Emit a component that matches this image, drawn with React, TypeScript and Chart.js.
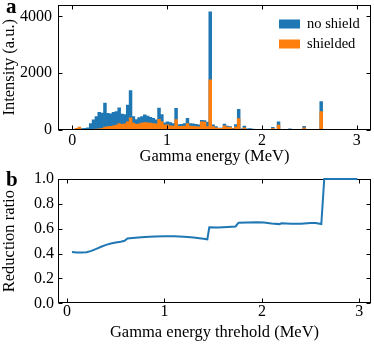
import { useEffect, useRef } from 'react';
import { Chart, registerables } from 'chart.js';

Chart.register(...registerables);

const FONT = "'Liberation Serif', 'Times New Roman', serif";
const BLUE = '#1f77b4';
const ORANGE = '#ff7f0e';

Chart.defaults.font.family = FONT;
Chart.defaults.font.size = 16;
Chart.defaults.color = '#000';

// Histogram: 100 bins of 0.03 MeV from 0 to 3 MeV
const BIN_WIDTH = 0.03;
const noShield = [
  0, 30, 60, 50, 60, 80, 230, 360, 470, 620,
  600, 950, 590, 570, 620, 650, 780, 560, 540, 880,
  1390, 470, 370, 440, 470, 530, 490, 450, 410, 360,
  770, 540, 250, 290, 260, 230, 760, 190, 200, 230,
  410, 230, 220, 200, 180, 340, 330, 280, 4160, 180,
  120, 70, 70, 210, 140, 120, 60, 190, 730, 40,
  140, 40, 50, 30, 15, 10, 10, 15, 10, 10,
  90, 10, 290, 20, 10, 10, 40, 10, 10, 10,
  10, 130, 10, 5, 5, 5, 5, 1000, 5, 0,
  0, 0, 0, 0, 0, 0, 0, 0, 0, 0,
];
const shielded = [
  0, 60, 100, 20, 10, 10, 15, 20, 30, 40,
  60, 100, 120, 130, 150, 170, 230, 200, 220, 290,
  430, 240, 200, 220, 240, 260, 250, 240, 230, 220,
  380, 290, 180, 180, 150, 140, 370, 130, 130, 140,
  230, 140, 130, 120, 110, 290, 280, 120, 1770, 120,
  80, 60, 60, 150, 100, 90, 40, 110, 400, 20,
  80, 20, 20, 10, 8, 5, 5, 8, 5, 5,
  60, 5, 175, 10, 5, 5, 10, 5, 5, 5,
  5, 80, 5, 3, 3, 3, 3, 650, 3, 0,
  0, 0, 0, 0, 0, 0, 0, 0, 0, 0,
];
const binCenters = noShield.map((_, i) => (i + 0.5) * BIN_WIDTH);

const energyTicks = [0, 1, 2, 3];
const energyTickLabels = ['0', '1', '2', '3'];
const intensityTicks = [0, 2000, 4000];
const intensityTickLabels = ['0', '2000', '4000'];

// Reduction ratio vs threshold
const thresholds = [
  0.05, 0.10, 0.15, 0.20, 0.25, 0.30, 0.35, 0.40, 0.45, 0.50,
  0.55, 0.59, 0.62, 0.70, 0.80, 0.90, 1.00, 1.10, 1.20, 1.30,
  1.40, 1.44, 1.46, 1.55, 1.65, 1.73, 1.76, 1.85, 1.95, 2.02,
  2.10, 2.18, 2.20, 2.30, 2.40, 2.50, 2.55, 2.61, 2.64, 2.98,
];
const ratios = [
  0.412, 0.409, 0.409, 0.411, 0.422, 0.438, 0.455, 0.470, 0.481, 0.489,
  0.496, 0.503, 0.521, 0.527, 0.533, 0.537, 0.540, 0.539, 0.536, 0.530,
  0.520, 0.515, 0.612, 0.610, 0.614, 0.618, 0.648, 0.651, 0.653, 0.650,
  0.642, 0.637, 0.644, 0.640, 0.640, 0.646, 0.646, 0.638, 1.0, 1.0,
];
const ratioTicks = [0, 0.2, 0.4, 0.6, 0.8, 1.0];
const ratioTickLabels = ['0.0', '0.2', '0.4', '0.6', '0.8', '1.0'];

const W = 374;
const H = 344;

function drawFrame(chart: any, opts: any) {
  const { ctx, chartArea } = chart;
  const { left, right, top, bottom } = chartArea;
  const xs = chart.scales.x;
  const ys = chart.scales.y;
  const L = 4;
  ctx.save();
  ctx.strokeStyle = '#000';
  ctx.lineWidth = 1;
  const l = Math.round(left) + 0.5;
  const r = Math.round(right) - 0.5;
  const t = Math.round(top) + 0.5;
  const b = Math.round(bottom) - 0.5;
  ctx.strokeRect(l, t, r - l, b - t);
  ctx.beginPath();
  for (const tk of xs.ticks) {
    const p = Math.round(xs.getPixelForValue(tk.value)) + 0.5;
    ctx.moveTo(p, b); ctx.lineTo(p, b - L);
    ctx.moveTo(p, t); ctx.lineTo(p, t + L);
  }
  for (const tk of ys.ticks) {
    const p = Math.round(ys.getPixelForValue(tk.value)) + 0.5;
    ctx.moveTo(l, p); ctx.lineTo(l + L, p);
    ctx.moveTo(r, p); ctx.lineTo(r - L, p);
  }
  ctx.stroke();
  ctx.restore();
}

function drawTexts(chart: any, opts: any) {
  const { ctx, chartArea } = chart;
  const xs = chart.scales.x;
  const ys = chart.scales.y;
  ctx.save();
  ctx.fillStyle = '#000';
  ctx.font = `${opts.tickSize}px ${FONT}`;
  ctx.textAlign = 'center';
  ctx.textBaseline = 'middle';
  opts.xTicks.forEach((v: number, i: number) => {
    ctx.fillText(opts.xLabels[i], xs.getPixelForValue(v), chartArea.bottom + opts.xLabelDy);
  });
  ctx.textAlign = 'right';
  opts.yTicks.forEach((v: number, i: number) => {
    ctx.fillText(opts.yLabels[i], chartArea.left - opts.yLabelDx, ys.getPixelForValue(v));
  });
  if (opts.label) {
    ctx.font = `bold ${opts.labelSize}px ${FONT}`;
    ctx.textAlign = 'left';
    ctx.textBaseline = 'alphabetic';
    ctx.fillText(opts.label, opts.labelX, opts.labelY);
  }
  ctx.restore();
}

const framePlugin = {
  id: 'frame',
  beforeDatasetsDraw(chart: any, _args: any, opts: any) {
    if (opts && opts.under) drawFrame(chart, opts);
  },
  afterDraw(chart: any, _args: any, opts: any) {
    if (!opts) return;
    if (!opts.under) drawFrame(chart, opts);
    drawTexts(chart, opts);
  },
};

const boxLegendPlugin = {
  id: 'boxLegend',
  afterDraw(chart: any, _args: any, opts: any) {
    if (!opts || !opts.show) return;
    const { ctx } = chart;
    ctx.save();
    ctx.font = `${opts.fontSize}px ${FONT}`;
    ctx.textAlign = 'left';
    ctx.textBaseline = 'middle';
    chart.data.datasets.forEach((ds: any, i: number) => {
      const y = opts.y + i * opts.step;
      ctx.fillStyle = ds.backgroundColor;
      ctx.fillRect(opts.x, y - opts.boxH / 2, opts.boxW, opts.boxH);
      ctx.fillStyle = '#000';
      ctx.fillText(ds.label, opts.x + opts.boxW + opts.gap, y);
    });
    ctx.restore();
  },
};

function fixedSize(size: number) {
  return (scale: any) => {
    if (scale.isHorizontal()) scale.height = size;
    else scale.width = size;
    scale.paddingTop = 0;
    scale.paddingBottom = 0;
    scale.paddingLeft = 0;
    scale.paddingRight = 0;
  };
}

function setTicks(values: number[]) {
  return (scale: any) => {
    scale.ticks = values.map((v) => ({ value: v }));
  };
}

const titleFont = { family: FONT, size: 16.5 };

export default function App() {
  const topRef = useRef<HTMLCanvasElement | null>(null);
  const botRef = useRef<HTMLCanvasElement | null>(null);

  useEffect(() => {
    const top = new Chart(topRef.current as HTMLCanvasElement, {
      type: 'bar',
      data: {
        datasets: [
          {
            label: 'no shield',
            data: binCenters.map((x, i) => ({ x, y: noShield[i] })),
            backgroundColor: BLUE,
            borderWidth: 0,
            order: 2,
            grouped: false,
            barPercentage: 1,
            categoryPercentage: 1,
          } as any,
          {
            label: 'shielded',
            data: binCenters.map((x, i) => ({ x, y: shielded[i] })),
            backgroundColor: ORANGE,
            borderWidth: 0,
            order: 1,
            grouped: false,
            barPercentage: 1,
            categoryPercentage: 1,
          } as any,
        ],
      },
      options: {
        animation: false,
        responsive: false,
        devicePixelRatio: 1,
        layout: { padding: { left: 0, right: 3, top: 4.5, bottom: H - 167 } },
        plugins: {
          legend: { display: false },
          tooltip: { enabled: false },
          frame: {
            label: 'a', labelX: 6, labelY: 13, labelSize: 21, under: false,
            tickSize: 16, xTicks: energyTicks, xLabels: energyTickLabels, xLabelDy: 10.5,
            yTicks: intensityTicks, yLabels: intensityTickLabels, yLabelDx: 6,
          },
          boxLegend: { show: true, x: 279, y: 24, step: 20, boxW: 21, boxH: 9, gap: 7, fontSize: 14.5 },
        } as any,
        scales: {
          x: {
            type: 'linear',
            min: -0.15,
            max: 3.15,
            offset: false,
            grid: { display: false, drawTicks: false },
            border: { display: false },
            ticks: { display: false },
            title: { display: true, text: 'Gamma energy (MeV)', font: titleFont, color: '#000', padding: { top: 0, bottom: 0 } },
            afterBuildTicks: setTicks(energyTicks),
            afterFit: fixedSize(37),
          } as any,
          y: {
            type: 'linear',
            min: 0,
            max: 4420,
            grid: { display: false, drawTicks: false },
            border: { display: false },
            ticks: { display: false },
            title: { display: true, text: 'Intensity (a.u.)', font: titleFont, color: '#000', padding: { top: 0, bottom: 0 } },
            afterBuildTicks: setTicks(intensityTicks),
            afterFit: fixedSize(58),
          } as any,
        },
      },
      plugins: [framePlugin, boxLegendPlugin],
    });

    const bot = new Chart(botRef.current as HTMLCanvasElement, {
      type: 'line',
      data: {
        datasets: [
          {
            label: 'reduction ratio',
            data: thresholds.map((x, i) => ({ x, y: ratios[i] })),
            borderColor: BLUE,
            backgroundColor: BLUE,
            borderWidth: 2,
            pointRadius: 0,
            tension: 0,
            fill: false,
            clip: 2,
          } as any,
        ],
      },
      options: {
        animation: false,
        responsive: false,
        devicePixelRatio: 1,
        layout: { padding: { left: 0, right: 3, top: 179, bottom: 1.1 } },
        plugins: {
          legend: { display: false },
          tooltip: { enabled: false },
          frame: {
            label: 'b', labelX: 6, labelY: 186, labelSize: 21, under: true,
            tickSize: 16, xTicks: energyTicks, xLabels: energyTickLabels, xLabelDy: 8,
            yTicks: ratioTicks, yLabels: ratioTickLabels, yLabelDx: 4,
          },
          boxLegend: { show: false },
        } as any,
        scales: {
          x: {
            type: 'linear',
            min: -0.093,
            max: 3.12,
            offset: false,
            grid: { display: false, drawTicks: false },
            border: { display: false },
            ticks: { display: false },
            title: { display: true, text: 'Gamma energy threhold (MeV)', font: titleFont, color: '#000', padding: { top: 0, bottom: 0 } },
            afterBuildTicks: setTicks(energyTicks),
            afterFit: fixedSize(39.6),
          } as any,
          y: {
            type: 'linear',
            min: 0,
            max: 1,
            grid: { display: false, drawTicks: false },
            border: { display: false },
            ticks: { display: false },
            title: { display: true, text: 'Reduction ratio', font: titleFont, color: '#000', padding: { top: 0, bottom: 0 } },
            afterBuildTicks: setTicks(ratioTicks),
            afterFit: fixedSize(58),
          } as any,
        },
      },
      plugins: [framePlugin, boxLegendPlugin],
    });

    return () => {
      top.destroy();
      bot.destroy();
    };
  }, []);

  const canvasStyle: any = { position: 'absolute', left: 0, top: 0, width: W, height: H };
  return (
    <div style={{ position: 'absolute', left: 0, top: 0, width: W, height: H, background: '#fff' }}>
      <canvas ref={topRef} width={W} height={H} style={canvasStyle} />
      <canvas ref={botRef} width={W} height={H} style={canvasStyle} />
    </div>
  );
}
